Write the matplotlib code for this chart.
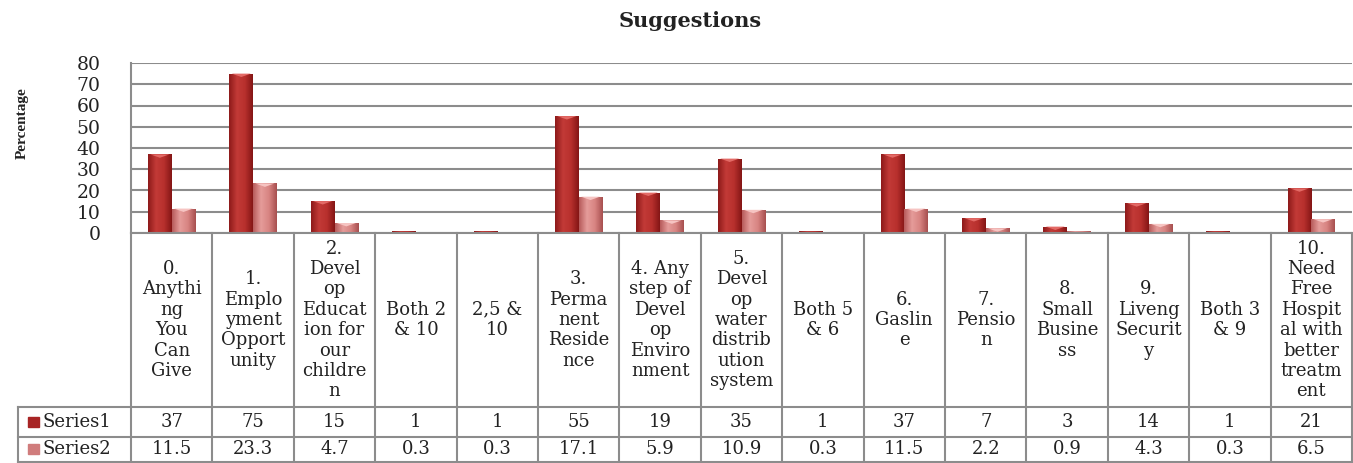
import numpy as np
import matplotlib.pyplot as plt
from matplotlib.colors import LinearSegmentedColormap

categories = [
    "0.\nAnythi\nng\nYou\nCan\nGive",
    "1.\nEmplo\nyment\nOpport\nunity",
    "2.\nDevel\nop\nEducat\nion for\nour\nchildre\nn",
    "Both 2\n& 10",
    "2,5 &\n10",
    "3.\nPerma\nnent\nReside\nnce",
    "4. Any\nstep of\nDevel\nop\nEnviro\nnment",
    "5.\nDevel\nop\nwater\ndistrib\nution\nsystem",
    "Both 5\n& 6",
    "6.\nGaslin\ne",
    "7.\nPensio\nn",
    "8.\nSmall\nBusine\nss",
    "9.\nLiveng\nSecurit\ny",
    "Both 3\n& 9",
    "10.\nNeed\nFree\nHospit\nal with\nbetter\ntreatm\nent",
]
series1 = [37, 75, 15, 1, 1, 55, 19, 35, 1, 37, 7, 3, 14, 1, 21]
series2 = [11.5, 23.3, 4.7, 0.3, 0.3, 17.1, 5.9, 10.9, 0.3, 11.5, 2.2, 0.9, 4.3, 0.3, 6.5]
series_names = ["Series1", "Series2"]
series1_txt = ["37", "75", "15", "1", "1", "55", "19", "35", "1", "37", "7", "3", "14", "1", "21"]
series2_txt = ["11.5", "23.3", "4.7", "0.3", "0.3", "17.1", "5.9", "10.9", "0.3", "11.5",
               "2.2", "0.9", "4.3", "0.3", "6.5"]

W, H = 1353, 463
fig = plt.figure(figsize=(W / 100, H / 100), dpi=100)
ax = fig.add_axes([131 / W, 1 - 233 / H, (1352 - 131) / W, 170 / H])

grid_c = '#8c8c8c'
serif = 'DejaVu Serif'
n = len(categories)
x = np.arange(n)
bw = 0.29

cmap1 = LinearSegmentedColormap.from_list('s1', ['#8e1a1a', '#c23a37', '#b8302d', '#851616'])
cmap2 = LinearSegmentedColormap.from_list('s2', ['#b85c5c', '#e59c9a', '#d88482', '#a85050'])
grad = np.linspace(0, 1, 50).reshape(1, -1)

ax.set_xlim(-0.5, n - 0.5)
ax.set_ylim(0, 80)

for vals, off, cm, cap in [(series1, -bw / 2, cmap1, '#e36a66'), (series2, bw / 2, cmap2, '#f6c4c2')]:
    bars = ax.bar(x + off, vals, width=bw, color='none', edgecolor='none', zorder=3)
    for b in bars:
        x0, h = b.get_x(), b.get_height()
        im = ax.imshow(grad, extent=[x0, x0 + bw, 0, h], aspect='auto', cmap=cm, zorder=3)
        im.set_clip_path(b)
        if h > 2:
            ax.fill([x0 + bw * 0.1, x0 + bw * 0.9, x0 + bw * 0.5], [h, h, h - 1.6],
                    color=cap, lw=0, zorder=4)

ax.set_yticks(np.arange(0, 81, 10))
ax.yaxis.grid(True, color=grid_c, lw=1.5, zorder=0)
ax.tick_params(axis='y', length=0, pad=22, labelsize=13.5, labelcolor='#222222')
for t in ax.get_yticklabels():
    t.set_fontfamily(serif)
ax.set_xticks([])
for s in ['top', 'right', 'bottom']:
    ax.spines[s].set_visible(False)
ax.spines['left'].set_color(grid_c)
ax.spines['left'].set_linewidth(1.5)

# data table under the plot
tr = ax.get_xaxis_transform()
def yax(py):
    return (233 - py) / 170.0

y_top, y_r1, y_r2, y_bot = yax(233), yax(407), yax(437), yax(462)
x_lab = -0.5 - (131 - 18) / (1221 / n)
lk = dict(transform=tr, color=grid_c, lw=1.5, clip_on=False, zorder=5)
ax.plot([-0.5, n - 0.5], [y_top, y_top], **lk)
for yy in (y_r1, y_r2, y_bot):
    ax.plot([x_lab, n - 0.5], [yy, yy], **lk)
for i in range(n + 1):
    ax.plot([i - 0.5, i - 0.5], [y_top, y_bot], **lk)
ax.plot([x_lab, x_lab], [y_r1, y_bot], **lk)

for i, lab in enumerate(categories):
    ax.text(i, (y_top + y_r1) / 2, lab, transform=tr, ha='center', va='center',
            fontsize=13, family=serif, linespacing=1.17, color='#222222', clip_on=False)
    ax.text(i, (y_r1 + y_r2) / 2, series1_txt[i], transform=tr, ha='center', va='center',
            fontsize=13, family=serif, color='#222222', clip_on=False)
    ax.text(i, (y_r2 + y_bot) / 2, series2_txt[i], transform=tr, ha='center', va='center',
            fontsize=13, family=serif, color='#222222', clip_on=False)

for name, yc, col in [(series_names[0], (y_r1 + y_r2) / 2, '#a82424'),
                      (series_names[1], (y_r2 + y_bot) / 2, '#d07c7c')]:
    fig.patches.append(plt.Rectangle((28 / W, 0), 11 / W, 10 / H, color=col,
                                     transform=fig.transFigure, figure=fig))
    fig.patches[-1].set_y(ax.transAxes.transform((0, yc))[1] / H - 5 / H)
    fig.text(43 / W, ax.transAxes.transform((0, yc))[1] / H, name, ha='left', va='center',
             fontsize=13, family=serif, color='#222222')

fig.text(690 / W, 1 - 21 / H, 'Suggestions', ha='center', va='center',
         fontsize=15, fontweight='bold', family=serif, color='#222222')
fig.text(22 / W, 1 - 123 / H, 'Percentage', ha='center', va='center', rotation=90,
         fontsize=11, fontweight='bold', family='Liberation Serif', color='#222222')

fig.savefig('out.png', dpi=100)
